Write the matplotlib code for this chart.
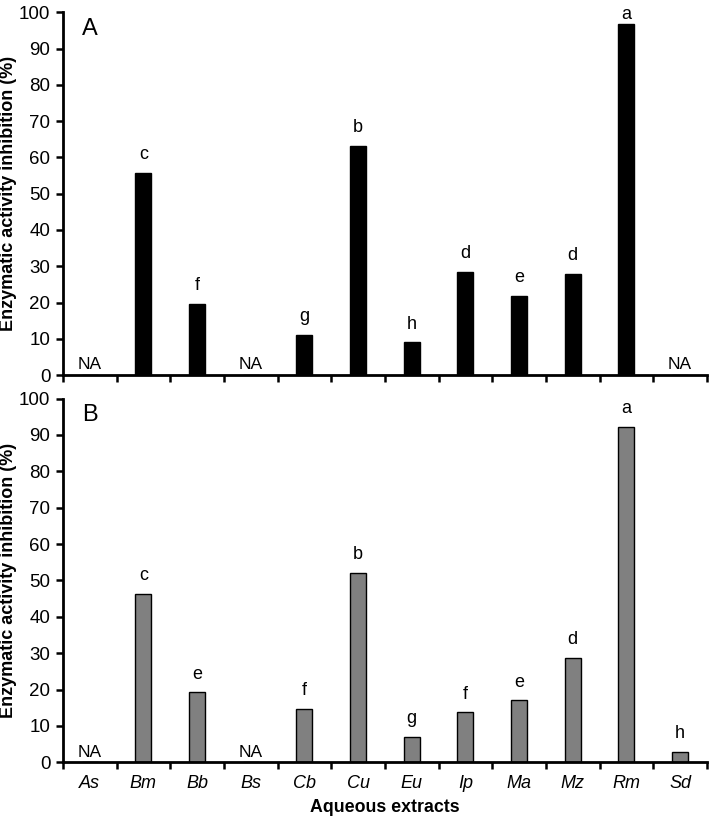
import matplotlib
matplotlib.use("Agg")
import matplotlib.pyplot as plt

plt.rcParams["font.family"] = ["Liberation Sans", "DejaVu Sans"]

extracts = ["As", "Bm", "Bb", "Bs", "Cb", "Cu", "Eu", "Ip", "Ma", "Mz", "Rm", "Sd"]

# None = not active (NA)
inhib_a = [None, 55.7, 19.7, None, 11.0, 63.2, 9.0, 28.5, 21.8, 28.0, 96.7, None]
letters_a = ["NA", "c", "f", "NA", "g", "b", "h", "d", "e", "d", "a", "NA"]

inhib_b = [None, 46.4, 19.2, None, 14.7, 52.1, 7.0, 13.7, 17.0, 28.6, 92.2, 2.9]
letters_b = ["NA", "c", "e", "NA", "f", "b", "g", "f", "e", "d", "a", "h"]

fig = plt.figure(figsize=(7.14, 8.19), dpi=100)
ax_a = fig.add_axes([0.088, 0.542, 0.902, 0.443])
ax_b = fig.add_axes([0.088, 0.0692, 0.902, 0.4441])


def draw_panel(ax, vals, letters, color, tag, show_x):
    xs = list(range(len(extracts)))
    heights = [v if v is not None else 0 for v in vals]
    ax.bar(xs, heights, width=0.3, color=color, edgecolor="black", linewidth=1.0, zorder=2)
    for i, (v, lab) in enumerate(zip(vals, letters)):
        if v is None:
            ax.annotate(lab, (i, 0), xytext=(0, 2), textcoords="offset points",
                        ha="center", va="bottom", fontsize=12.5)
        else:
            off = 10 if v < 95 else 4
            ax.annotate(lab, (i, v), xytext=(0, off), textcoords="offset points",
                        ha="center", va="baseline", fontsize=13, annotation_clip=False)
    ax.set_xlim(-0.5, len(extracts) - 0.5)
    ax.set_ylim(0, 100)
    ax.set_yticks(range(0, 101, 10))
    ax.tick_params(axis="y", labelsize=13.5, width=1.8, length=5, direction="out", pad=4)
    ax.set_xticks([i - 0.5 for i in range(len(extracts) + 1)])
    ax.tick_params(axis="x", which="major", width=1.8, length=5, direction="out", labelbottom=False)
    if show_x:
        ax.set_xticks(range(len(extracts)), minor=True)
        ax.set_xticklabels(extracts, minor=True, fontstyle="italic", fontsize=13)
        ax.tick_params(axis="x", which="minor", length=0, pad=9)
        ax.set_xlabel("Aqueous extracts", fontsize=12.8, fontweight="bold", labelpad=5)
    for s in ["top", "right"]:
        ax.spines[s].set_visible(False)
    for s in ["left", "bottom"]:
        ax.spines[s].set_linewidth(2)
    ax.set_ylabel("Enzymatic activity inhibition (%)", fontsize=13, fontweight="bold")
    ax.yaxis.set_label_coords(-0.071, 0.5)
    ax.text(0.03, 0.985, tag, transform=ax.transAxes, fontsize=17, va="top", ha="left")


draw_panel(ax_a, inhib_a, letters_a, "black", "A", False)
draw_panel(ax_b, inhib_b, letters_b, "#808080", "B", True)

fig.savefig("out.png", dpi=100)
